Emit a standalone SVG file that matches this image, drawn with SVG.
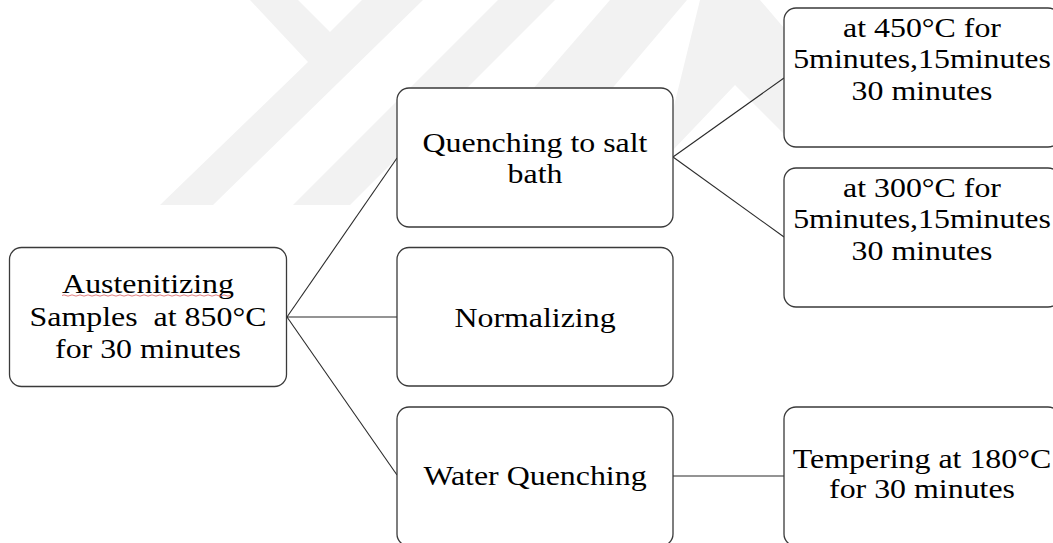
<svg xmlns="http://www.w3.org/2000/svg" width="1053" height="543" viewBox="0 0 1053 543">
<style>
.box{fill:#fff;stroke:#3a3a3a;stroke-width:1.3}
.lbl{font-family:'Liberation Serif',Tinos,'Times New Roman',Times,'Nimbus Roman','Nimbus Roman No9 L',FreeSerif,serif;font-size:27.5px;fill:#000;text-anchor:middle}
.wm{fill:#f2f2f2}
.con{stroke:#2a2a2a;stroke-width:1.1;fill:none}
</style>
<rect width="1053" height="543" fill="#fff"/>
<g id="watermark">
<polygon class="wm" points="160,205 308,62 250,0 298,0 330,32 362,0 423,0 213,205"/>
<polygon class="wm" points="293,205 350,205 555,0 498,0"/>
<polygon class="wm" points="610,0 687,0 560,150 480,150"/>
<polygon class="wm" points="700,0 760,0 790,35 790,140 735,85 673,150 673,110"/>
</g>
<g id="connectors">
<line class="con" x1="287" y1="317" x2="397" y2="158"/>
<line class="con" x1="287" y1="317" x2="397" y2="317"/>
<line class="con" x1="287" y1="317" x2="397" y2="475"/>
<line class="con" x1="673" y1="157" x2="784" y2="78"/>
<line class="con" x1="673" y1="157" x2="784" y2="237"/>
<line class="con" x1="673" y1="476" x2="784" y2="476"/>
</g>
<g id="austenitizing">
<rect class="box" x="9.5" y="247.5" width="277" height="139" rx="12"/>
<text class="lbl" font-family="Liberation Serif" transform="translate(148,0) scale(1.16,1)" x="0" y="293">Austenitizing</text>
<path d="M62,295.5 q2,-1.2 4,0 t4,0 t4,0 t4,0 t4,0 t4,0 t4,0 t4,0 t4,0 t4,0 t4,0 t4,0 t4,0 t4,0 t4,0 t4,0 t4,0 t4,0 t4,0 t4,0 t4,0 t4,0 t4,0 t4,0 t4,0 t4,0 t4,0 t4,0 t4,0 t4,0 t4,0 t4,0 t4,0 t4,0 t4,0 t4,0 t4,0 t4,0 t4,0 t4,0 t4,0 t4,0" fill="none" stroke="#e07070" stroke-width="0.9"/>
<text class="lbl" transform="translate(148,0) scale(1.16,1)" x="0" y="326" xml:space="preserve">Samples  at 850°C</text>
<text class="lbl" transform="translate(148,0) scale(1.16,1)" x="0" y="358">for 30 minutes</text>
</g>
<g id="quenching-salt">
<rect class="box" x="397" y="88" width="276" height="139" rx="12"/>
<text class="lbl" transform="translate(535,0) scale(1.16,1)" x="0" y="152">Quenching to salt</text>
<text class="lbl" transform="translate(535,0) scale(1.16,1)" x="0" y="183">bath</text>
</g>
<g id="normalizing">
<rect class="box" x="397" y="247.5" width="276" height="138.5" rx="12"/>
<text class="lbl" transform="translate(535,0) scale(1.16,1)" x="0" y="327">Normalizing</text>
</g>
<g id="water-quenching">
<rect class="box" x="397" y="407" width="276" height="139" rx="12"/>
<text class="lbl" transform="translate(535,0) scale(1.16,1)" x="0" y="485">Water Quenching</text>
</g>
<g id="salt-450">
<rect class="box" x="784" y="8" width="276" height="139" rx="12"/>
<text class="lbl" transform="translate(922,0) scale(1.16,1)" x="0" y="37">at 450°C for</text>
<text class="lbl" transform="translate(922,0) scale(1.16,1)" x="0" y="68">5minutes,15minutes</text>
<text class="lbl" transform="translate(922,0) scale(1.16,1)" x="0" y="100">30 minutes</text>
</g>
<g id="salt-300">
<rect class="box" x="784" y="168" width="276" height="139" rx="12"/>
<text class="lbl" transform="translate(922,0) scale(1.16,1)" x="0" y="197">at 300°C for</text>
<text class="lbl" transform="translate(922,0) scale(1.16,1)" x="0" y="228">5minutes,15minutes</text>
<text class="lbl" transform="translate(922,0) scale(1.16,1)" x="0" y="260">30 minutes</text>
</g>
<g id="tempering">
<rect class="box" x="784" y="407" width="276" height="139" rx="12"/>
<text class="lbl" transform="translate(922,0) scale(1.16,1)" x="0" y="468">Tempering at 180°C</text>
<text class="lbl" transform="translate(922,0) scale(1.16,1)" x="0" y="498">for 30 minutes</text>
</g>
</svg>
